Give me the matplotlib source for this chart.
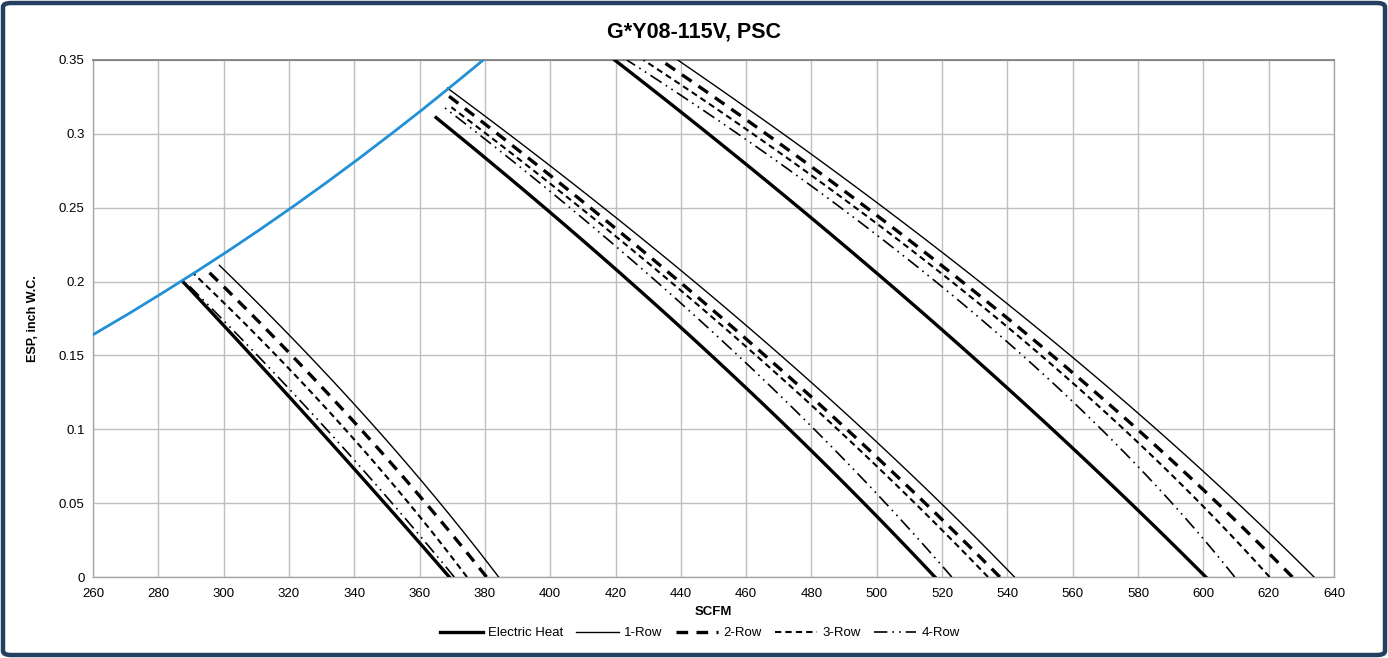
import matplotlib
matplotlib.use("Agg")
import numpy as np
import matplotlib.pyplot as plt
from matplotlib.patches import FancyBboxPatch

plt.rcParams['font.family'] = ['Liberation Sans', 'DejaVu Sans']

# ---------------- data ----------------
# system curve (blue)
sys_cfm = [260, 270, 280, 290, 300, 310, 320, 330, 340, 350, 360, 370, 380]
sys_esp = [0.164, 0.177, 0.1905, 0.2044, 0.2187, 0.2335, 0.2488, 0.2646, 0.2809, 0.2977, 0.3149, 0.3327, 0.3509]

# low speed cluster
eh_low_cfm = [287.5, 329.1, 369.1];   eh_low_esp = [0.200, 0.100, 0.0]
r4_low_cfm = [289.5, 331.5, 370.6];   r4_low_esp = [0.197, 0.100, 0.0]
r3_low_cfm = [291.0, 337.2, 374.5];   r3_low_esp = [0.205, 0.100, 0.0]
r2_low_cfm = [293.8, 342.0, 380.5];   r2_low_esp = [0.210, 0.100, 0.0]
r1_low_cfm = [298.7, 346.9, 384.2];   r1_low_esp = [0.211, 0.100, 0.0]

# medium speed cluster
eh_med_cfm = [365.0, 398.4, 424.3, 473.2, 517.8];  eh_med_esp = [0.311, 0.25, 0.20, 0.10, 0.0]
r4_med_cfm = [367.3, 406.6, 432.2, 480.8, 523.0];  r4_med_esp = [0.318, 0.25, 0.20, 0.10, 0.0]
r3_med_cfm = [369.8, 409.7, 435.7, 488.8, 533.8];  r3_med_esp = [0.318, 0.25, 0.20, 0.10, 0.0]
r2_med_cfm = [368.3, 412.0, 439.3, 491.3, 537.5];  r2_med_esp = [0.327, 0.25, 0.20, 0.10, 0.0]
r1_med_cfm = [368.8, 415.6, 444.4, 496.1, 542.0];  r1_med_esp = [0.331, 0.25, 0.20, 0.10, 0.0]

# high speed cluster
eh_high_cfm = [419.6, 476.1, 503.7, 553.0, 601.0];  eh_high_esp = [0.35, 0.25, 0.20, 0.10, 0.0]
r4_high_cfm = [423.5, 489.0, 517.8, 569.0, 609.5];  r4_high_esp = [0.35, 0.25, 0.20, 0.10, 0.0]
r3_high_cfm = [428.5, 493.7, 522.8, 575.6, 620.3];  r3_high_esp = [0.35, 0.25, 0.20, 0.10, 0.0]
r2_high_cfm = [434.2, 495.4, 527.0, 580.2, 627.0];  r2_high_esp = [0.35, 0.25, 0.20, 0.10, 0.0]
r1_high_cfm = [439.8, 500.7, 530.8, 587.8, 633.0];  r1_high_esp = [0.35, 0.25, 0.20, 0.10, 0.0]

x_ticks = list(range(260, 641, 20))
y_ticks = [0, 0.05, 0.1, 0.15, 0.2, 0.25, 0.3, 0.35]
y_tick_labels = ['0', '0.05', '0.1', '0.15', '0.2', '0.25', '0.3', '0.35']

title = 'G*Y08-115V, PSC'
series_names = ['Electric Heat', '1-Row', '2-Row', '3-Row', '4-Row']

# ---------------- figure ----------------
W, H = 1388, 658
fig = plt.figure(figsize=(W / 100, H / 100), dpi=100)
fig.patch.set_facecolor('white')

# outer border
border = FancyBboxPatch((3 / W, 3 / H), (W - 6) / W, (H - 6) / H,
                        boxstyle='round,pad=0,rounding_size=0.006',
                        transform=fig.transFigure, facecolor='none',
                        edgecolor='#243F60', linewidth=3.2, zorder=10)
fig.patches.append(border)

ax = fig.add_axes([93 / W, 1 - 577 / H, (1334 - 93) / W, (577 - 60) / H])
ax.set_xlim(260, 640)
ax.set_ylim(0, 0.35)
ax.set_xticks(x_ticks)
ax.set_yticks(y_ticks)
ax.set_yticklabels(y_tick_labels)
ax.tick_params(axis='x', labelsize=9.5, length=0, pad=8, colors='black')
ax.tick_params(axis='y', labelsize=9.5, length=0, pad=6, colors='black')
ax.grid(True, color='#BFBFBF', linewidth=1.0)
ax.set_axisbelow(True)
for s in ['left', 'right', 'bottom']:
    ax.spines[s].set_color('#A6A6A6')
    ax.spines[s].set_linewidth(1.0)
ax.spines['top'].set_color('#808080')
ax.spines['top'].set_linewidth(1.3)

# blue system curve (smooth line through the read points)
sc = np.linspace(sys_cfm[0], sys_cfm[-1], 200)
ax.plot(sc, np.interp(sc, sys_cfm, sys_esp), color='#2290D6', linewidth=2.0, zorder=5)

styles = {
    'eh': dict(color='black', linewidth=2.4, linestyle='-'),
    'r1': dict(color='black', linewidth=1.0, linestyle='-'),
    'r2': dict(color='black', linewidth=2.4, linestyle=(0, (3.5, 2.5))),
    'r3': dict(color='black', linewidth=1.5, linestyle=(0, (3, 2))),
    'r4': dict(color='black', linewidth=1.2, linestyle=(0, (8, 3, 1, 3, 1, 3))),
}

clusters = [
    [(eh_low_cfm, eh_low_esp), (r1_low_cfm, r1_low_esp), (r2_low_cfm, r2_low_esp),
     (r3_low_cfm, r3_low_esp), (r4_low_cfm, r4_low_esp)],
    [(eh_med_cfm, eh_med_esp), (r1_med_cfm, r1_med_esp), (r2_med_cfm, r2_med_esp),
     (r3_med_cfm, r3_med_esp), (r4_med_cfm, r4_med_esp)],
    [(eh_high_cfm, eh_high_esp), (r1_high_cfm, r1_high_esp), (r2_high_cfm, r2_high_esp),
     (r3_high_cfm, r3_high_esp), (r4_high_cfm, r4_high_esp)],
]
keys = ['eh', 'r1', 'r2', 'r3', 'r4']
handles = []
for ci, cl in enumerate(clusters):
    for k, name, (xs, ys) in zip(keys, series_names, cl):
        # smooth trend line through the read points (CFM as a quadratic of ESP)
        coef = np.polyfit(ys, xs, 2)
        ee = np.linspace(min(ys), max(ys), 120)
        ln, = ax.plot(np.polyval(coef, ee), ee, zorder=4, **styles[k])
        if ci == 0:
            handles.append(ln)

ax.set_xlabel('SCFM', fontsize=9.5, fontweight='bold', labelpad=4)
ax.set_ylabel('ESP, inch W.C.', fontsize=9, fontweight='bold', labelpad=14)

fig.text(0.5, 1 - 32 / H, title, ha='center', va='center', fontsize=15.5, fontweight='bold')

fig.legend(handles, series_names, loc='center', bbox_to_anchor=(700 / W, 1 - 633 / H),
           ncol=5, frameon=False, fontsize=9.5, handlelength=3.2, columnspacing=1.0,
           handletextpad=0.4)

fig.savefig('out.png', dpi=100, facecolor='white')
